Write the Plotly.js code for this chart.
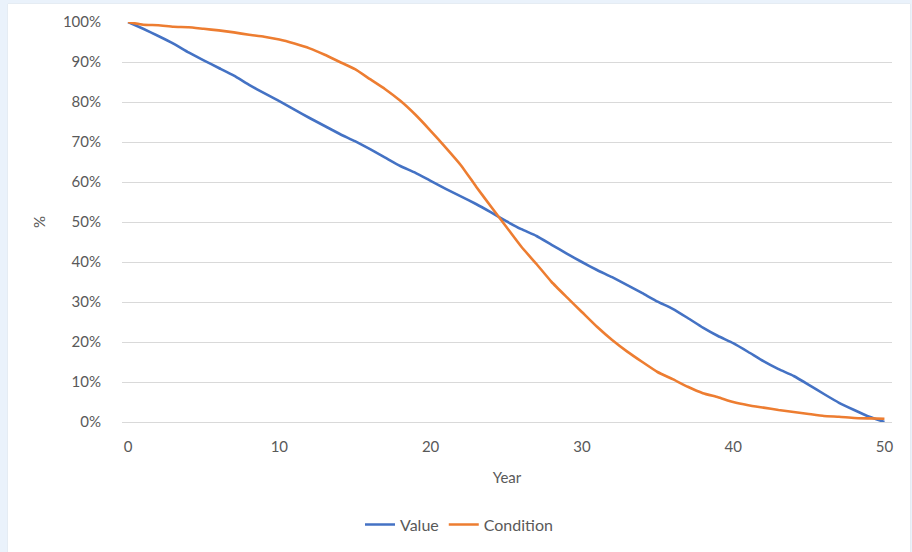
<!DOCTYPE html>
<html>
<head>
<meta charset="utf-8">
<script src="https://cdn.plot.ly/plotly-3.0.1.min.js"></script>
<style>
  html, body { margin: 0; padding: 0; background: #eaf2fb; width: 912px; height: 552px; overflow: hidden; }
  #chart { position: absolute; left: 8px; top: 4px; width: 902px; height: 548px; background: #fff; box-shadow: 0 0 1px #ccc; }
</style>
</head>
<body>
<div id="chart"></div>
<script>
const years = [0,1,2,3,4,5,6,7,8,9,10,11,12,13,14,15,16,17,18,19,20,21,22,23,24,25,26,27,28,29,30,31,32,33,34,35,36,37,38,39,40,41,42,43,44,45,46,47,48,49,50];
const valuePct = [100,98.3,96.5,94.6,92.4,90.4,88.5,86.6,84.3,82.2,80.2,78.1,76.0,74.0,72.0,70.2,68.2,66.1,64.0,62.3,60.3,58.3,56.4,54.5,52.4,50.2,48.2,46.5,44.3,42.1,40.0,38.0,36.2,34.2,32.2,30.1,28.3,26.0,23.6,21.5,19.7,17.5,15.2,13.2,11.5,9.3,7.0,4.8,3.0,1.3,0];
const conditionPct = [100,99.3,99.2,98.8,98.7,98.3,97.9,97.4,96.8,96.3,95.6,94.6,93.4,91.8,90.0,88.2,85.7,83.2,80.3,76.8,72.8,68.6,64.2,58.9,53.8,48.8,43.8,39.5,35.0,31.2,27.5,23.8,20.5,17.6,15.0,12.5,10.7,8.8,7.2,6.2,5.0,4.2,3.6,3.0,2.5,2.0,1.5,1.3,1.0,0.9,0.8];
const seriesNames = ["Value", "Condition"];

const fontFam = "Lato, 'Liberation Sans', sans-serif";
const txt = "#595959";
const fs = 15;

const traces = [
  { x: years, y: valuePct.map(v => v / 100), name: seriesNames[0], type: "scatter", mode: "lines",
    line: { color: "#4472C4", width: 2.6, shape: "spline", smoothing: 0.4 } },
  { x: years, y: conditionPct.map(v => v / 100), name: seriesNames[1], type: "scatter", mode: "lines",
    line: { color: "#ED7D31", width: 2.6, shape: "spline", smoothing: 0.4 } }
];

const layout = {
  width: 902, height: 548,
  margin: { l: 114, r: 18, t: 18, b: 130 },
  paper_bgcolor: "#ffffff", plot_bgcolor: "#ffffff",
  font: { family: fontFam, size: fs, color: txt },
  showlegend: true,
  legend: { orientation: "h", xref: "container", yref: "container", x: 0.5, xanchor: "center",
            y: 0.05, yanchor: "middle", font: { family: fontFam, size: 16, color: txt },
            itemwidth: 30, tracegroupgap: 0 },
  xaxis: {
    range: [-0.4, 50.5], tickvals: [0,10,20,30,40,50], ticktext: ["0","10","20","30","40","50"],
    showgrid: false, zeroline: false, showline: false, ticks: "",
    ticklabelstandoff: 14,
    tickfont: { family: fontFam, size: fs, color: txt },
    title: { text: "Year", font: { family: fontFam, size: fs, color: txt }, standoff: 18 }
  },
  yaxis: {
    range: [0, 1], tickvals: [0,0.1,0.2,0.3,0.4,0.5,0.6,0.7,0.8,0.9,1],
    tickformat: ".0%", showgrid: true, gridcolor: "#d9d9d9", gridwidth: 1,
    zeroline: true, zerolinecolor: "#d9d9d9", zerolinewidth: 1, showline: false, ticks: "",
    ticklabelstandoff: 20,
    tickfont: { family: fontFam, size: fs, color: txt },
    title: { text: "%", font: { family: fontFam, size: fs, color: txt }, standoff: 13 }
  }
};

Plotly.newPlot("chart", traces, layout, { displayModeBar: false, staticPlot: true });
</script>
</body>
</html>
